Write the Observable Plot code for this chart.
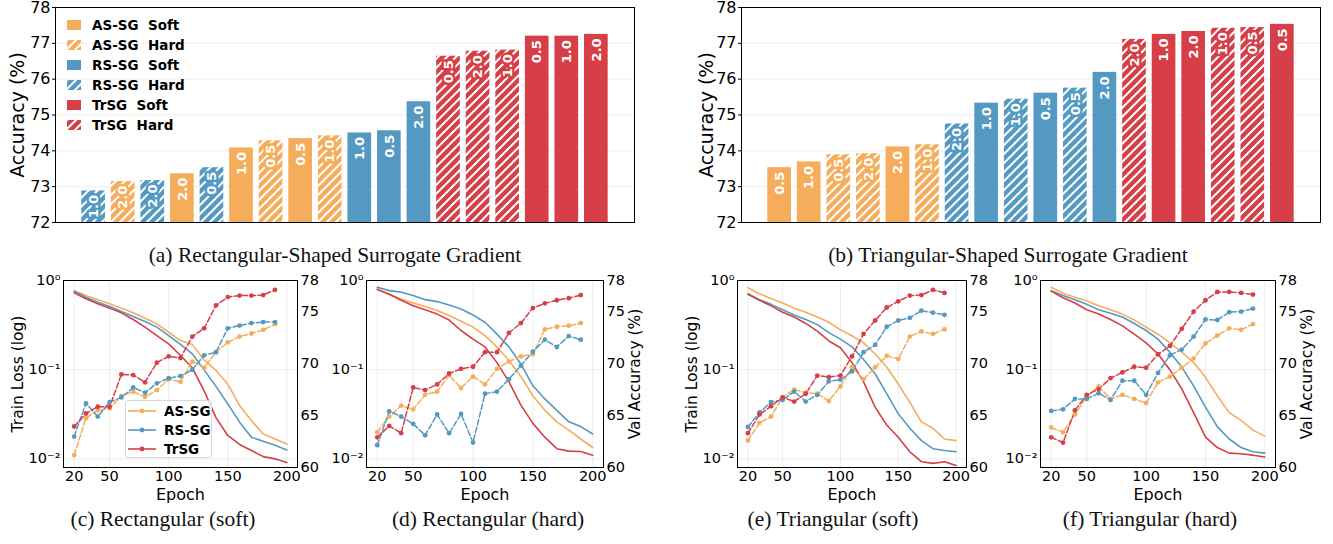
<!DOCTYPE html>
<html><head><meta charset="utf-8">
<script src="https://cdn.jsdelivr.net/npm/d3@7"></script>
<script src="https://cdn.jsdelivr.net/npm/@observablehq/plot@0.6"></script>
<style>
body{margin:0;background:#fff;}
#root{position:relative;width:1333px;height:544px;overflow:hidden;font-family:"DejaVu Sans",sans-serif;color:#000;}
.cap{position:absolute;font-family:"Liberation Serif","Times New Roman",serif;font-size:21.5px;line-height:22px;color:#111;white-space:nowrap;transform:translateX(-50%);}
.leg{position:absolute;font-family:"DejaVu Sans",sans-serif;font-weight:bold;font-size:13.5px;}
.row{display:flex;align-items:center;white-space:pre;}
</style></head><body><div id="root"></div>
<script>
// ---------- data ----------
const methods = ["AS-SG", "RS-SG", "TrSG"];
const methodColors = ["#F5AD5C", "#5499C2", "#D63F47"];
const modes = ["Soft", "Hard"];

// (a) Rectangular-shaped surrogate gradient (sorted bars)
const rectMethod = ["RS-SG","AS-SG","RS-SG","AS-SG","RS-SG","AS-SG","AS-SG","AS-SG","AS-SG","RS-SG","RS-SG","RS-SG","TrSG","TrSG","TrSG","TrSG","TrSG","TrSG"];
const rectMode   = ["Hard","Hard","Hard","Soft","Hard","Soft","Hard","Soft","Hard","Soft","Soft","Soft","Hard","Hard","Hard","Soft","Soft","Soft"];
const rectParam  = ["1.0","2.0","2.0","2.0","0.5","1.0","0.5","0.5","1.0","1.0","0.5","2.0","0.5","2.0","1.0","0.5","1.0","2.0"];
const rectAcc    = [72.88,73.14,73.17,73.36,73.53,74.08,74.28,74.34,74.42,74.50,74.56,75.37,76.64,76.78,76.81,77.20,77.20,77.25];

// (b) Triangular-shaped surrogate gradient
const triMethod = ["AS-SG","AS-SG","AS-SG","AS-SG","AS-SG","AS-SG","RS-SG","RS-SG","RS-SG","RS-SG","RS-SG","RS-SG","TrSG","TrSG","TrSG","TrSG","TrSG","TrSG"];
const triMode   = ["Soft","Soft","Hard","Hard","Soft","Hard","Hard","Soft","Hard","Soft","Hard","Soft","Hard","Soft","Soft","Hard","Hard","Soft"];
const triParam  = ["0.5","1.0","0.5","2.0","2.0","1.0","2.0","1.0","1.0","0.5","0.5","2.0","2.0","1.0","2.0","1.0","0.5","0.5"];
const triAcc    = [73.53,73.69,73.89,73.92,74.11,74.17,74.75,75.33,75.44,75.61,75.75,76.19,77.11,77.25,77.33,77.42,77.44,77.53];

const barTicks = [72, 73, 74, 75, 76, 77, 78];

// line panels
const lossEpochs = [20,30,40,50,60,70,80,90,100,110,120,130,140,150,160,170,180,190,200];
const accEpochs  = [20,30,40,50,60,70,80,90,100,110,120,130,140,150,160,170,180,190];
const epochTicks = [20, 50, 100, 150, 200];
const lossTicks = [0.01, 0.1, 1];
const lossTickLabels = ["10\u207B\u00B2", "10\u207B\u00B9", "10\u2070"];
const accTicks = [60, 65, 70, 75, 78];

// (c) Rectangular (soft)
const lossRectSoftAS = [0.772,0.679,0.607,0.547,0.49,0.434,0.378,0.327,0.263,0.212,0.191,0.129,0.098,0.069,0.0396,0.0269,0.019,0.0167,0.0147];
const lossRectSoftRS = [0.753,0.65,0.57,0.51,0.45,0.395,0.347,0.30,0.241,0.192,0.15,0.0995,0.065,0.0414,0.0258,0.0175,0.0158,0.0142,0.0126];
const lossRectSoftTr = [0.727,0.623,0.547,0.49,0.434,0.365,0.30,0.241,0.195,0.144,0.105,0.058,0.029,0.0183,0.0145,0.0124,0.0106,0.010,0.0091];
const accRectSoftAS = [61.2,64.75,65.5,65.7,66.9,67.3,66.8,67.45,68.5,68.25,70.2,69.6,71.1,72.05,72.6,72.9,73.25,73.8];
const accRectSoftRS = [62.98,66.17,64.9,66.3,66.75,67.7,67.2,68.1,68.6,68.8,69.4,70.8,71.1,73.4,73.66,73.9,74.0,74.0];
const accRectSoftTr = [63.95,65.2,65.85,65.85,68.96,68.9,68.2,70.1,70.7,70.54,72.6,73.4,75.6,76.4,76.55,76.55,76.6,77.1];

// (d) Rectangular (hard)
const lossRectHardAS = [0.81,0.70,0.62,0.56,0.51,0.46,0.405,0.35,0.30,0.24,0.18,0.127,0.084,0.051,0.035,0.026,0.021,0.0167,0.0134];
const lossRectHardRS = [0.84,0.77,0.74,0.68,0.61,0.58,0.53,0.48,0.41,0.34,0.25,0.18,0.116,0.066,0.047,0.035,0.026,0.023,0.019];
const lossRectHardTr = [0.79,0.70,0.60,0.52,0.47,0.42,0.36,0.275,0.22,0.18,0.12,0.073,0.04,0.025,0.0175,0.013,0.0122,0.0121,0.011];
const accRectHardAS = [63.4,64.9,65.95,65.6,67.0,67.3,68.9,67.65,68.75,68.0,69.5,70.2,70.7,70.9,73.3,73.55,73.65,73.9];
const accRectHardRS = [62.15,65.4,64.9,64.2,63.1,65.1,63.3,65.15,62.4,67.1,67.3,68.5,69.8,71.15,72.3,71.6,72.65,72.3];
const accRectHardTr = [62.9,64.0,63.3,67.7,67.45,68.0,69.05,69.5,69.7,71.1,71.1,72.95,73.9,75.35,75.8,76.1,76.3,76.6];

// (e) Triangular (soft)
const lossTriSoftAS = [0.83,0.71,0.63,0.56,0.49,0.44,0.39,0.34,0.28,0.24,0.20,0.15,0.107,0.069,0.043,0.026,0.022,0.0167,0.016];
const lossTriSoftRS = [0.71,0.61,0.54,0.47,0.41,0.365,0.32,0.26,0.22,0.18,0.13,0.09,0.054,0.032,0.022,0.016,0.013,0.0124,0.012];
const lossTriSoftTr = [0.70,0.60,0.52,0.44,0.39,0.33,0.27,0.21,0.176,0.12,0.073,0.038,0.024,0.0175,0.012,0.0093,0.0089,0.0093,0.0084];
const accTriSoftAS = [62.6,64.3,64.9,66.75,67.5,67.2,67.1,66.4,67.8,69.65,68.5,69.65,70.75,70.45,72.6,73.1,72.85,73.3];
const accTriSoftRS = [63.9,65.3,66.3,66.5,67.3,66.35,67.0,68.3,68.45,69.25,71.1,71.8,73.55,74.15,74.4,75.1,74.9,74.7];
const accTriSoftTr = [63.3,65.1,65.9,66.75,66.35,67.1,68.85,68.7,68.85,70.7,72.85,74.15,75.4,76.0,76.55,76.6,77.1,76.8];

// (f) Triangular (hard)
const lossTriHardAS = [0.84,0.72,0.65,0.59,0.52,0.47,0.42,0.36,0.30,0.25,0.20,0.157,0.12,0.082,0.051,0.033,0.027,0.021,0.018];
const lossTriHardRS = [0.77,0.68,0.61,0.54,0.47,0.43,0.39,0.33,0.275,0.22,0.157,0.107,0.066,0.038,0.023,0.0167,0.0134,0.012,0.0116];
const lossTriHardTr = [0.76,0.64,0.56,0.47,0.42,0.365,0.31,0.25,0.20,0.15,0.10,0.061,0.033,0.0175,0.0134,0.0116,0.0114,0.011,0.0105];
const accTriHardAS = [63.85,63.4,65.1,66.85,67.8,66.6,67.0,66.6,66.2,68.2,68.75,69.6,70.5,71.95,72.7,73.4,73.25,73.8];
const accTriHardRS = [65.45,65.6,66.6,66.6,67.15,66.5,68.35,68.35,67.0,69.1,70.8,71.35,72.6,74.25,74.2,74.95,75.0,75.3];
const accTriHardTr = [62.9,62.4,65.5,67.0,67.55,68.6,69.15,69.7,69.6,70.9,71.7,73.35,75.0,76.1,76.9,76.9,76.8,76.65];

const captions = ["(a) Rectangular-Shaped Surrogate Gradient", "(b) Triangular-Shaped Surrogate Gradient",
  "(c) Rectangular (soft)", "(d) Rectangular (hard)", "(e) Triangular (soft)", "(f) Triangular (hard)"];

// ---------- helpers ----------
const root = document.getElementById("root");
const colorOf = m => methodColors[methods.indexOf(m)];
const hatchOf = m => `url(#hatch${methods.indexOf(m)})`;
const FONT = "DejaVu Sans";
function place(node, left, top) {
  node.style.position = "absolute";
  node.style.left = left + "px";
  node.style.top = top + "px";
  root.appendChild(node);
}

// hatch patterns
const defsSvg = d3.create("svg").attr("width", 0).attr("height", 0).style("position", "absolute");
const defs = defsSvg.append("defs");
methods.forEach((m, k) => {
  const p = defs.append("pattern").attr("id", "hatch" + k).attr("patternUnits", "userSpaceOnUse")
    .attr("width", 9).attr("height", 9);
  p.append("rect").attr("width", 9).attr("height", 9).attr("fill", methodColors[k]);
  p.append("path").attr("d", "M-2,2L2,-2M0,9L9,0M7,11L11,7").attr("stroke", "#fff").attr("stroke-width", 2);
});
root.appendChild(defsSvg.node());

// ---------- bar charts ----------
function barChart(mArr, modeArr, pArr, accArr, left, W, mL, mR, labelDx) {
  const data = accArr.map((v, i) => ({i, method: mArr[i], mode: modeArr[i], param: pArr[i], acc: v}));
  const svg = Plot.plot({
    width: W, height: 236, marginLeft: mL, marginRight: mR, marginTop: 7, marginBottom: 14,
    style: {fontFamily: FONT, background: "transparent", overflow: "visible"},
    x: {type: "band", domain: data.map(d => d.i), paddingInner: 0.2, paddingOuter: 0.89, round: false, axis: null},
    y: {domain: [barTicks[0], barTicks[barTicks.length - 1]]},
    color: {type: "identity"},
    marks: [
      Plot.gridY(barTicks.slice(1, -1), {stroke: "#000", strokeOpacity: 0.07}),
      Plot.barY(data, {x: "i", y1: barTicks[0], y2: "acc",
        fill: d => d.mode === "Hard" ? hatchOf(d.method) : colorOf(d.method)}),
      Plot.text(data, {x: "i", y: "acc", text: "param", rotate: -90, textAnchor: "end", dy: 4,
        fill: "#fff", stroke: d => colorOf(d.method), strokeWidth: 5, paintOrder: "stroke",
        strokeLinejoin: "round", fontWeight: "bold", fontSize: 13}),
      Plot.axisY(barTicks, {tickSize: 3, tickPadding: 2, fontSize: 16, label: null}),
      Plot.frame({stroke: "#000"}),
      Plot.text(["Accuracy (%)"], {frameAnchor: "left", textAnchor: "middle", lineAnchor: "middle", rotate: -90, dx: labelDx, fontSize: 19})
    ]
  });
  place(svg, left, 0);
}
barChart(rectMethod, rectMode, rectParam, rectAcc, 0, 650, 55, 16, -37.5);
barChart(triMethod, triMode, triParam, triAcc, 690, 640, 51, 10, -35);

// legend of (a)
const leg = document.createElement("div");
leg.className = "leg";
methods.forEach((m, k) => modes.forEach(md => {
  const row = document.createElement("div");
  row.className = "row";
  row.style.height = "20px";
  const fill = md === "Hard" ? hatchOf(m) : methodColors[k];
  row.innerHTML = `<svg width="14" height="10" style="margin-right:11px"><rect width="14" height="10" fill="${fill}"/></svg><span>${m}  ${md}</span>`;
  leg.appendChild(row);
}));
place(leg, 67, 15);

// ---------- line panels ----------
function table(epochs, series, key) {
  return methods.flatMap((m, k) => series[k].map((v, i) => ({epoch: epochs[i], [key]: v, method: m, color: methodColors[k]})));
}
const panels = [
  {left: 0, fw: 234, loss: [lossRectSoftAS, lossRectSoftRS, lossRectSoftTr], acc: [accRectSoftAS, accRectSoftRS, accRectSoftTr], leftLabel: true, rightLabel: false},
  {left: 303, fw: 237, loss: [lossRectHardAS, lossRectHardRS, lossRectHardTr], acc: [accRectHardAS, accRectHardRS, accRectHardTr], leftLabel: false, rightLabel: true},
  {left: 674, fw: 229, loss: [lossTriSoftAS, lossTriSoftRS, lossTriSoftTr], acc: [accTriSoftAS, accTriSoftRS, accTriSoftTr], leftLabel: true, rightLabel: false},
  {left: 977, fw: 235, loss: [lossTriHardAS, lossTriHardRS, lossTriHardTr], acc: [accTriHardAS, accTriHardRS, accTriHardTr], leftLabel: false, rightLabel: true}
];
panels.forEach(P => {
  const W = 63 + P.fw + 45;
  const base = {width: W, height: 240, marginLeft: 63, marginRight: 45, marginTop: 15, marginBottom: 38,
    style: {fontFamily: FONT, background: "transparent", overflow: "visible"}, color: {type: "identity"}};
  const lossData = table(lossEpochs, P.loss, "loss");
  const accData = table(accEpochs, P.acc, "acc");
  const marks1 = [
    Plot.gridX(epochTicks, {stroke: "#000", strokeOpacity: 0.07}),
    Plot.gridY(lossTicks, {stroke: "#000", strokeOpacity: 0.07}),
    Plot.line(lossData, {x: "epoch", y: "loss", z: "method", stroke: "color", strokeWidth: 1.6}),
    Plot.axisX(epochTicks, {tickSize: 0, tickPadding: 3, fontSize: 14.5, label: null}),
    Plot.axisY(lossTicks, {tickSize: 0, tickPadding: 3, fontSize: 14.5, label: null,
      tickFormat: d => lossTickLabels[lossTicks.indexOf(d)]}),
    Plot.frame({stroke: "#000"}),
    Plot.text(["Epoch"], {frameAnchor: "bottom", textAnchor: "middle", lineAnchor: "middle", dy: 27, fontSize: 16})
  ];
  if (P.leftLabel) marks1.push(Plot.text(["Train Loss (log)"], {frameAnchor: "left", textAnchor: "middle", lineAnchor: "middle", rotate: -90, dx: -45.5, fontSize: 15.5}));
  const svg1 = Plot.plot({...base, x: {domain: [11, 209]}, y: {type: "log", domain: [0.008, 1]}, marks: marks1});
  place(svg1, P.left, 265);

  const marks2 = [
    Plot.line(accData, {x: "epoch", y: "acc", z: "method", stroke: "color", strokeWidth: 1.5, strokeDasharray: "5.5,2.4"}),
    Plot.dot(accData, {x: "epoch", y: "acc", fill: "color", r: 2.4}),
    Plot.axisY(accTicks, {anchor: "right", tickSize: 0, tickPadding: 3, fontSize: 14.5, label: null})
  ];
  if (P.rightLabel) marks2.push(Plot.text(["Val Accuracy (%)"], {frameAnchor: "right", textAnchor: "middle", lineAnchor: "middle", rotate: -90, dx: 32, fontSize: 15.5}));
  const svg2 = Plot.plot({...base, x: {domain: [11, 209], axis: null}, y: {domain: [accTicks[0], accTicks[accTicks.length - 1]]}, marks: marks2});
  place(svg2, P.left, 265);
});

// legend of (c)
const leg2 = document.createElement("div");
leg2.className = "leg";
Object.assign(leg2.style, {width: "87px", height: "58px", border: "1px solid #d8d8d8", borderRadius: "3px",
  background: "rgba(255,255,255,0.8)", paddingTop: "0px", boxSizing: "border-box"});
methods.forEach((m, k) => {
  const row = document.createElement("div");
  row.className = "row";
  row.style.height = "19px";
  row.innerHTML = `<svg width="30" height="10" style="margin-left:1px;margin-right:7px"><line x1="1" x2="29" y1="5" y2="5" stroke="${methodColors[k]}" stroke-width="1.6"/><circle cx="15" cy="5" r="2.4" fill="${methodColors[k]}"/></svg><span>${m}</span>`;
  leg2.appendChild(row);
});
place(leg2, 125, 400);

// captions
const capPos = [[335, 244], [1008, 244], [163, 508], [488, 508], [833, 508], [1150, 508]];
captions.forEach((t, i) => {
  const c = document.createElement("div");
  c.className = "cap";
  c.textContent = t;
  c.style.left = capPos[i][0] + "px";
  c.style.top = capPos[i][1] + "px";
  root.appendChild(c);
});
</script></body></html>
